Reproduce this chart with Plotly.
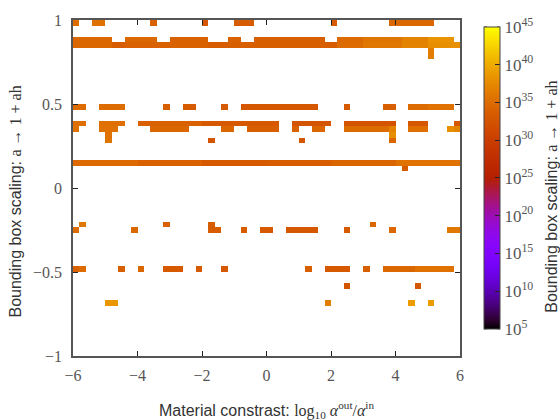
import math
import plotly.graph_objects as go

# ---- data -------------------------------------------------------------
# grid: 60 columns (material contrast, log10 alpha_out/alpha_in) x 60 rows (bounding-box scaling)
x_centers = [round(-5.9 + 0.2 * i, 2) for i in range(60)]
y_centers = [round(1 - (j + 0.5) / 30, 4) for j in range(60)]  # row j counted from top

# filled cells: row index -> list of (first column, last column, log10 value)
row_00 = [(0, 0, 35.0), (3, 4, 35.5), (12, 12, 34.0), (20, 20, 33.0), (25, 27, 33.5),
          (40, 40, 33.5), (49, 55, 34.5)]
row_03 = [(0, 5, 34.5), (8, 12, 34.5), (15, 20, 34.0), (24, 25, 34.0), (28, 38, 33.8),
          (41, 44, 34.8), (45, 50, 35.8), (51, 54, 36.8), (55, 58, 38.3)]
row_04 = [(0, 5, 34.5), (6, 7, 33.5), (8, 20, 34.0), (21, 23, 33.5), (24, 38, 33.8),
          (39, 40, 33.5), (41, 44, 35.0), (45, 50, 36.0), (51, 54, 37.0), (55, 59, 38.0)]
row_05 = [(55, 55, 36.5)]
row_06 = [(55, 55, 36.5)]
row_15 = [(0, 1, 35.0), (4, 7, 35.0), (14, 14, 33.8), (17, 18, 33.3), (23, 23, 33.3),
          (26, 37, 33.0), (42, 42, 33.3), (48, 49, 33.8), (52, 54, 35.0), (55, 58, 35.5)]
row_18 = [(0, 1, 35.3), (4, 7, 35.3), (10, 19, 34.0), (20, 31, 33.2), (34, 39, 32.8),
          (42, 49, 32.5), (52, 54, 33.0), (59, 59, 33.0)]
row_19 = [(0, 0, 35.5), (4, 6, 35.5), (12, 17, 34.5), (23, 24, 34.5), (27, 31, 33.8),
          (34, 34, 34.0), (37, 38, 34.5), (42, 48, 35.0), (49, 49, 37.0), (52, 54, 35.3),
          (58, 58, 38.0), (59, 59, 37.0)]
row_20 = [(5, 5, 35.5), (49, 49, 38.0)]
row_21 = [(5, 5, 35.8), (21, 21, 32.8), (35, 35, 32.8), (49, 49, 34.5)]
row_25 = [(0, 9, 34.8), (10, 19, 34.0), (20, 29, 33.2), (30, 39, 33.5), (40, 49, 34.3),
          (50, 59, 35.5)]
row_26 = [(51, 51, 33.5)]
row_36 = [(1, 1, 36.0), (14, 14, 34.0), (21, 21, 33.5), (46, 46, 34.5)]
row_37 = [(0, 0, 35.0), (9, 9, 34.5), (21, 22, 33.5), (26, 26, 33.5), (29, 30, 33.2),
          (33, 37, 33.0), (42, 42, 33.3), (49, 49, 34.5), (58, 59, 36.0)]
row_44 = [(0, 0, 34.0), (1, 1, 35.0), (7, 7, 33.8), (10, 10, 34.5), (14, 16, 33.2),
          (19, 19, 33.3), (23, 23, 33.2), (36, 36, 33.8), (39, 42, 33.2), (45, 45, 33.8),
          (48, 52, 34.5), (53, 58, 35.5)]
row_47 = [(42, 42, 32.8), (53, 53, 32.8)]
row_50 = [(5, 6, 38.5), (39, 39, 36.5), (52, 52, 39.0), (55, 55, 39.0)]

rows = {0: row_00, 3: row_03, 4: row_04, 5: row_05, 6: row_06, 15: row_15, 18: row_18,
        19: row_19, 20: row_20, 21: row_21, 25: row_25, 26: row_26, 36: row_36,
        37: row_37, 44: row_44, 47: row_47, 50: row_50}

x_ticks = [-6, -4, -2, 0, 2, 4, 6]
x_ticktext = ["\u22126", "\u22124", "\u22122", "0", "2", "4", "6"]
y_ticks = [-1, -0.5, 0, 0.5, 1]
y_ticktext = ["\u22121", "\u22120.5", "0", "0.5", "1"]
cb_major = list(range(5, 46, 5))
cb_minor = [e for e in range(6, 45) if e % 5 != 0]

# ---- build z grid (rows ordered bottom -> top) -----------------------
n = 60
z = [[None] * n for _ in range(n)]
for j, segs in rows.items():
    for a, b, v in segs:
        for i in range(a, b + 1):
            z[n - 1 - j][i] = v
y_sorted = list(reversed(y_centers))

# gnuplot-like palette (rgbformulae 7,5,15)
colorscale = []
for k in range(41):
    t = k / 40
    r = math.sqrt(t)
    g = t ** 3
    bl = max(0.0, math.sin(2 * math.pi * t))
    colorscale.append([t, f"rgb({round(r*255)},{round(g*255)},{round(bl*255)})"])

serif = "Liberation Serif"
sans = "Liberation Sans"

CB_X, CB_Y, CB_LEN, CB_THICK = 1.062, 0.53, 0.898, 16
PLOT_W = 560 - 73 - 100

fig = go.Figure(go.Heatmap(
    x=x_centers, y=y_sorted, z=z, zmin=5, zmax=45,
    colorscale=colorscale, hoverinfo="skip",
    colorbar=dict(
        x=CB_X, xanchor="left", xpad=0, y=CB_Y, yanchor="middle", ypad=0,
        len=CB_LEN, lenmode="fraction", thickness=CB_THICK,
        outlinecolor="#444", outlinewidth=1,
        tickvals=cb_major,
        ticktext=[f"10<sup>{e}</sup>" for e in cb_major],
        ticks="inside", ticklen=5, tickcolor="#222",
        tickfont=dict(family=serif, size=17, color="#555"),
    ),
))

# minor tick marks on both sides of the colour bar
bar_x0 = CB_X
bar_x1 = CB_X + CB_THICK / PLOT_W
tick_dx = 3 / PLOT_W
shapes = []
for e in cb_minor + cb_major:
    yy = CB_Y - CB_LEN / 2 + (e - 5) / 40 * CB_LEN
    for xa, xb in ((bar_x0, bar_x0 + tick_dx), (bar_x1 - tick_dx, bar_x1)):
        shapes.append(dict(type="line", xref="paper", yref="paper", x0=xa, x1=xb,
                           y0=yy, y1=yy, line=dict(color="#222", width=1)))

axis_common = dict(showline=True, linecolor="#555", linewidth=1.5, mirror="allticks",
                   ticks="inside", ticklen=5, tickcolor="#222", showgrid=False,
                   zeroline=False, tickfont=dict(family=serif, size=16, color="#555"))

fig.update_xaxes(range=[-6, 6], tickvals=x_ticks, ticktext=x_ticktext,
                 ticklabelstandoff=4, **axis_common)
fig.update_yaxes(range=[-1, 1], tickvals=y_ticks, ticktext=y_ticktext,
                 ticklabelstandoff=6, **axis_common)

title_font = dict(family=sans, size=16, color="#333")
fig.update_layout(
    width=560, height=420,
    margin=dict(l=73, r=100, t=14, b=64),
    paper_bgcolor="white", plot_bgcolor="white",
    shapes=shapes,
    annotations=[
        dict(text="Material constrast: <span style='font-family:Liberation Serif'>log<sub>10</sub> "
                  "<i>\u03b1</i><sup>out</sup>/<i>\u03b1</i><sup>in</sup></span>",
             xref="paper", yref="paper", x=0.5, y=-0.16, xanchor="center", yanchor="middle",
             showarrow=False, font=title_font),
        dict(text="Bounding box scaling: <span style='font-family:Liberation Serif'>a \u2192 1 + ah</span>",
             xref="paper", yref="paper", x=-0.148, y=0.459, xanchor="center", yanchor="middle",
             textangle=-90, showarrow=False, font=title_font),
        dict(text="Bounding box scaling: <span style='font-family:Liberation Serif'>a \u2192 1 + ah</span>",
             xref="paper", yref="paper", x=1.236, y=0.475, xanchor="center", yanchor="middle",
             textangle=-90, showarrow=False, font=title_font),
    ],
)

fig.write_html("out.html")
